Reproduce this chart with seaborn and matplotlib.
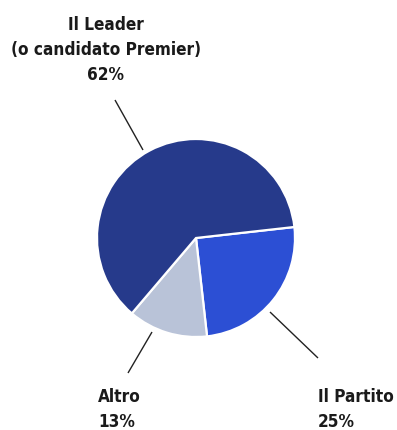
import matplotlib
matplotlib.use("Agg")
import matplotlib.pyplot as plt
from matplotlib import font_manager
import seaborn as sns

# Survey shares: what drives the vote choice
categories = ["Il Partito", "Altro", "Il Leader"]
shares = [25, 13, 62]
colors = ["#2c4fd4", "#b9c3d8", "#263a8b"]

sns.set_theme(style="white")
plt.rcParams["font.family"] = ["DejaVu Sans"]

# prefer a condensed face when one is available
cond = [f for f in font_manager.fontManager.ttflist
        if f.name == "DejaVu Sans" and f.stretch == "condensed"]
if cond:
    stretch, fs = "condensed", 12.3
else:
    stretch, fs = "normal", 11.0

W, H = 397, 430
fig = plt.figure(figsize=(W / 100, H / 100), dpi=100)
fig.patch.set_facecolor("white")

# pie centred at (196, 238) px with a 99 px radius
cx, cy, r = 196, 238, 99
ax = fig.add_axes([(cx - r) / W, 1 - (cy + r) / H, 2 * r / W, 2 * r / H])
wedges, _ = ax.pie(
    shares,
    colors=colors,
    startangle=6.4,
    counterclock=False,
    radius=1.0,
    wedgeprops=dict(edgecolor="white", linewidth=1.6),
)
ax.set_xlim(-1, 1)
ax.set_ylim(-1, 1)
ax.set_aspect("equal")
ax.axis("off")


def px(x, y):
    return ((x - cx) / r, (cy - y) / r)


# leader lines from the wedges out to the labels
leader_lines = {
    "Il Leader": (px(143, 150), px(115, 100)),
    "Il Partito": (px(270, 312), px(318, 358)),
    "Altro": (px(152, 332), px(128, 373)),
}
for name, (p0, p1) in leader_lines.items():
    ax.plot([p0[0], p1[0]], [p0[1], p1[1]], color="#222222", lw=1.0,
            clip_on=False, solid_capstyle="butt")

tkw = dict(fontsize=fs, fontweight="bold", fontstretch=stretch, color="#1a1a1a")

# labels
lead = shares[categories.index("Il Leader")]
fig.text(106 / W, 1 - 30 / H, "Il Leader", ha="center", va="baseline", **tkw)
fig.text(106 / W, 1 - 55 / H, "(o candidato Premier)", ha="center", va="baseline", **tkw)
fig.text(106 / W, 1 - 80 / H, f"{lead}%", ha="center", va="baseline", **tkw)

alt = shares[categories.index("Altro")]
fig.text(98 / W, 1 - 402 / H, "Altro", ha="left", va="baseline", **tkw)
fig.text(98 / W, 1 - 427 / H, f"{alt}%", ha="left", va="baseline", **tkw)

par = shares[categories.index("Il Partito")]
fig.text(318 / W, 1 - 402 / H, "Il Partito", ha="left", va="baseline", **tkw)
fig.text(318 / W, 1 - 427 / H, f"{par}%", ha="left", va="baseline", **tkw)

fig.savefig("out.png", dpi=100, facecolor="white")
